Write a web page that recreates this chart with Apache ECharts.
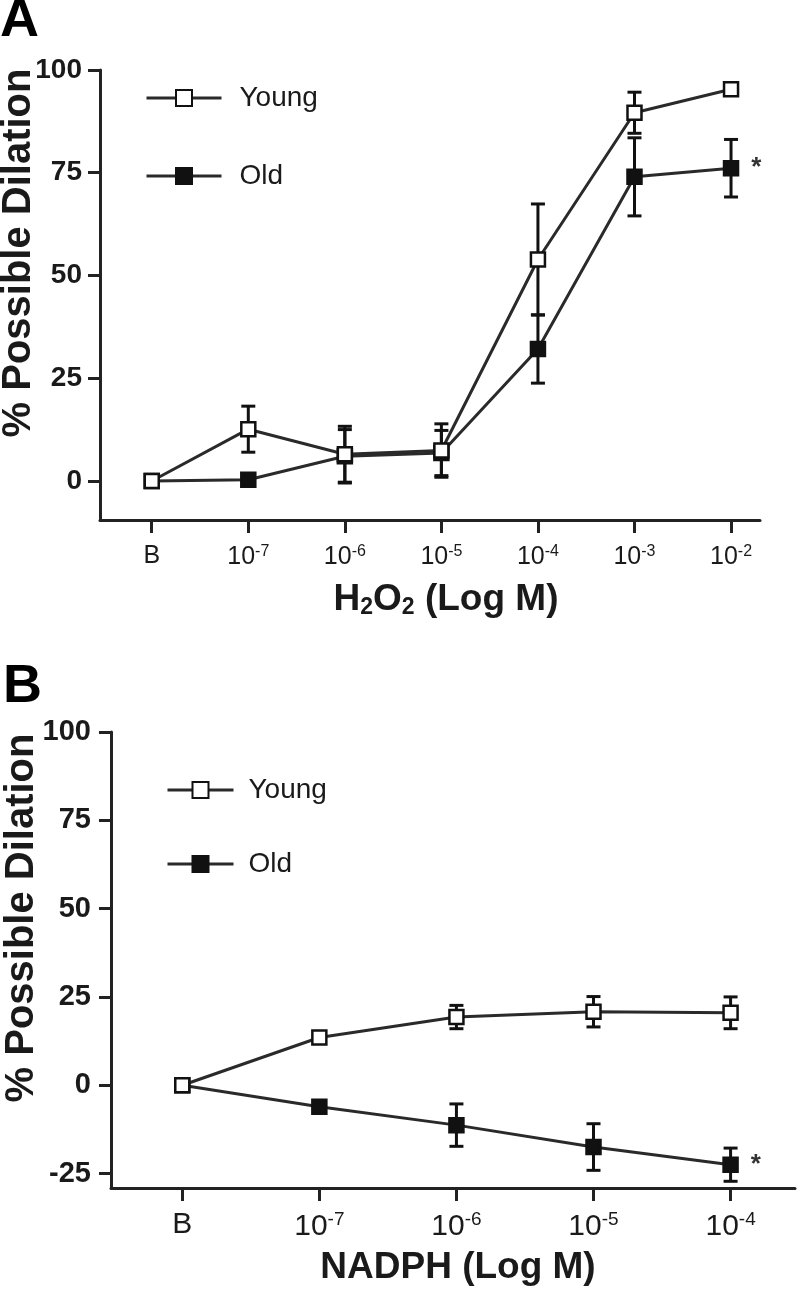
<!DOCTYPE html>
<html>
<head>
<meta charset="utf-8">
<script src="https://cdn.jsdelivr.net/npm/echarts@6/dist/echarts.min.js"></script>
<style>
html, body { margin: 0; padding: 0; background: #fff; }
#main { width: 797px; height: 1290px; }
</style>
</head>
<body>
<div id="main"></div>
<script>
// panel A: H2O2
var labelsA = ['B', '10^-7', '10^-6', '10^-5', '10^-4', '10^-3', '10^-2'];
var youngA = [0, 12.6, 6.5, 7.4, 53.9, 89.6, 95.3];
var youngErrA = [0, 5.6, 6.8, 6.5, 13.5, 5, 0];
var oldA = [0, 0.3, 6.0, 6.8, 32.1, 74.0, 76.1];
var oldErrA = [0, 0, 6.5, 5.5, 8.3, 9.5, 7];
var yTicksA = [0, 25, 50, 75, 100];

// panel B: NADPH
var labelsB = ['B', '10^-7', '10^-6', '10^-5', '10^-4'];
var youngB = [0, 13.5, 19.3, 20.8, 20.5];
var youngErrB = [0, 1.5, 3.3, 4.3, 4.5];
var oldB = [0, -6.1, -11.3, -17.5, -22.5];
var oldErrB = [0, 1, 6, 6.6, 4.7];
var yTicksB = [-25, 0, 25, 50, 75, 100];

var yTitle = '% Possible Dilation';

var FONT = 'Liberation Sans, Arial, sans-serif';
var INK = '#1a1a1a';

function idx(arr) { return arr.map(function (v, i) { return i; }); }
function pts(arr, star) {
  return arr.map(function (v, i) {
    if (star && i === arr.length - 1) {
      return { value: [i, v], label: { show: true, formatter: '*', position: 'right', distance: 12,
        fontSize: 26, fontWeight: 'bold', color: '#333', fontFamily: FONT } };
    }
    return [i, v];
  });
}
function errs(mean, err) {
  return mean.map(function (v, i) { return [i, v - err[i], v + err[i]]; });
}
function tickLabel(labels) {
  return function (v) {
    var s = labels[Math.round(v)];
    var p = s.split('^');
    return p.length > 1 ? '{n|' + p[0] + '}{sup|' + p[1] + '}' : '{n|' + s + '}';
  };
}

function errItem(params, api) {
  var x = api.value(0), lo = api.value(1), hi = api.value(2);
  if (hi - lo < 0.01) return;
  var top = api.coord([x, hi]), bot = api.coord([x, lo]);
  var w = 7;
  var st = { stroke: '#111', lineWidth: 3 };
  return {
    type: 'group',
    children: [
      { type: 'line', shape: { x1: top[0], y1: top[1], x2: bot[0], y2: bot[1] }, style: st },
      { type: 'line', shape: { x1: top[0] - w, y1: top[1], x2: top[0] + w, y2: top[1] }, style: st },
      { type: 'line', shape: { x1: bot[0] - w, y1: bot[1], x2: bot[0] + w, y2: bot[1] }, style: st }
    ]
  };
}

function lineSeries(name, data, ax, star) {
  var young = name === 'Young';
  return {
    name: name, type: 'line', xAxisIndex: ax, yAxisIndex: ax,
    data: pts(data, star), symbol: 'rect', symbolSize: 14, z: young ? 4 : 3,
    lineStyle: { color: '#2a2a2a', width: 3 },
    itemStyle: { color: young ? '#fff' : '#111', borderColor: '#111', borderWidth: 2.5 },
    emphasis: { disabled: true }
  };
}
function errSeries(mean, err, ax) {
  return {
    type: 'custom', xAxisIndex: ax, yAxisIndex: ax, z: 2,
    data: errs(mean, err), renderItem: errItem, silent: true
  };
}

function xAxisCfg(grid, labels, min, max, title, titlePad, gap, labFont, labMargin, titleFont) {
  return {
    gridIndex: grid, type: 'value', min: min, max: max,
    axisLine: { onZero: false, lineStyle: { color: '#222', width: 3 } },
    axisTick: { customValues: idx(labels), length: 13, lineStyle: { color: '#222', width: 3 } },
    axisLabel: {
      customValues: idx(labels), formatter: tickLabel(labels), margin: labMargin,
      fontSize: labFont, color: INK, fontFamily: FONT,
      rich: {
        n: { fontSize: labFont, color: INK, fontFamily: FONT },
        sup: { fontSize: Math.round(labFont * 0.64), color: INK, fontFamily: FONT, padding: [0, 0, Math.round(labFont * 0.45), 0] }
      }
    },
    splitLine: { show: false },
    name: title, nameLocation: 'middle', nameGap: gap,
    nameTextStyle: {
      fontSize: titleFont, fontWeight: 'bold', color: INK, fontFamily: FONT, padding: titlePad,
      rich: {
        t: { fontSize: titleFont, fontWeight: 'bold', color: INK, fontFamily: FONT },
        sub: { fontSize: Math.round(titleFont * 0.62), fontWeight: 'bold', color: INK, fontFamily: FONT, padding: [Math.round(titleFont * 0.4), 0, 0, 0] }
      }
    }
  };
}
function yAxisCfg(grid, min, ticks, labFont, margin) {
  return {
    gridIndex: grid, type: 'value', min: min, max: 100,
    axisLine: { show: true, onZero: false, lineStyle: { color: '#222', width: 3 } },
    axisTick: { show: true, customValues: ticks, length: 12, lineStyle: { color: '#222', width: 3 } },
    axisLabel: { customValues: ticks, fontSize: labFont, fontWeight: 'bold', color: INK, fontFamily: FONT, margin: margin },
    splitLine: { show: false }
  };
}
function legendCfg(left, top, w, gap, textPad) {
  return {
    data: ['Young', 'Old'], orient: 'vertical', left: left, top: top, padding: 0,
    itemWidth: w, itemHeight: 20, itemGap: gap, selectedMode: false,
    lineStyle: { width: 3, color: '#2a2a2a' },
    textStyle: { fontSize: 28, color: INK, fontFamily: FONT, padding: [0, 0, 0, textPad] }
  };
}
function vTitle(x, y) {
  return {
    type: 'text', x: x, y: y, rotation: Math.PI / 2,
    style: { text: yTitle, font: 'bold 40px ' + FONT, fill: INK, align: 'center', verticalAlign: 'middle' }
  };
}

var chart = echarts.init(document.getElementById('main'));
chart.setOption({
  animation: false,
  backgroundColor: '#fff',
  grid: [
    { left: 100, right: 37, top: 70, bottom: 770, outerBoundsMode: 'none' },
    { left: 111, right: 2, top: 732, bottom: 102, outerBoundsMode: 'none' }
  ],
  xAxis: [
    xAxisCfg(0, labelsA, -0.536, 6.3, '{t|H}{sub|2}{t|O}{sub|2}{t| (Log M)}', [0, 0, 0, 32], 61, 25, 24, 37),
    xAxisCfg(1, labelsB, -0.52, 4.47, 'NADPH (Log M)', [0, 0, 0, 10], 61, 30, 22, 37)
  ],
  yAxis: [
    yAxisCfg(0, -9.5, yTicksA, 28, 18),
    yAxisCfg(1, -29.1, yTicksB, 29, 20)
  ],
  legend: [
    legendCfg(145, 84, 75, 50, 13),
    legendCfg(166, 776, 66, 46, 10)
  ],
  graphic: [
    { type: 'text', left: 0, top: -6, style: { text: 'A', font: 'bold 54px ' + FONT, fill: '#000' } },
    { type: 'text', left: 3, top: 660, style: { text: 'B', font: 'bold 54px ' + FONT, fill: '#000' } },
    vTitle(19, 253),
    vTitle(22, 918)
  ],
  series: [
    errSeries(youngA, youngErrA, 0),
    errSeries(oldA, oldErrA, 0),
    lineSeries('Old', oldA, 0, true),
    lineSeries('Young', youngA, 0, false),
    errSeries(youngB, youngErrB, 1),
    errSeries(oldB, oldErrB, 1),
    lineSeries('Old', oldB, 1, true),
    lineSeries('Young', youngB, 1, false)
  ]
});
</script>
</body>
</html>
